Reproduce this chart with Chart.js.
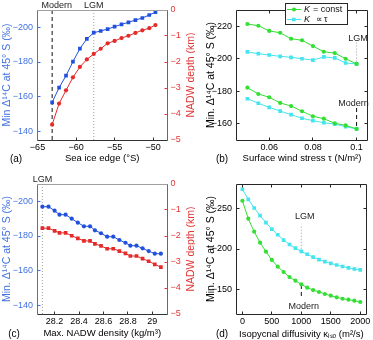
<!DOCTYPE html>
<html>
<head>
<meta charset="utf-8">
<script src="https://cdn.jsdelivr.net/npm/chart.js@4.4.1/dist/chart.umd.min.js"></script>
<style>
  body { margin: 0; background: #fff; }
  #fig { position: relative; width: 373px; height: 340px; overflow: hidden; }
  #fig canvas { position: absolute; }
</style>
</head>
<body>
<div id="fig">
  <canvas id="pa" width="195" height="170" style="left:0;top:0"></canvas>
  <canvas id="pb" width="178" height="170" style="left:195px;top:0"></canvas>
  <canvas id="pc" width="195" height="170" style="left:0;top:170px"></canvas>
  <canvas id="pd" width="178" height="170" style="left:195px;top:170px"></canvas>
</div>
<script>
// (a) sea ice edge experiment
const seaIceEdge = [-63.1, -62.2, -61.3, -60.4, -59.5, -58.6, -57.7, -56.8, -55.9, -55.0, -54.1, -53.2, -52.3, -51.4, -50.5, -49.7];
const aC14 = [-156.7, -165.2, -172.1, -180.2, -187.7, -193.3, -196.9, -197.9, -199.0, -200.4, -201.7, -202.9, -204.2, -205.4, -207.1, -208.7];
const aNadwDepth = [-4.41, -3.60, -3.09, -2.59, -2.19, -1.90, -1.69, -1.49, -1.28, -1.19, -1.08, -0.99, -0.88, -0.78, -0.70, -0.58];
const modernIceEdge = -63.1, lgmIceEdge = -57.7;

// (b) wind stress experiment
const windStress = [0.05, 0.055, 0.06, 0.065, 0.07, 0.075, 0.08, 0.085, 0.09, 0.095, 0.1];
const bConstLgm = [-221.4, -220.3, -217.1, -216.0, -212.3, -211.4, -207.8, -204.3, -203.5, -200.0, -196.8];
const bPropLgm = [-204.2, -203.1, -202.3, -201.5, -200.9, -200.0, -199.2, -201.1, -200.5, -197.4, -196.8];
const bConstModern = [-182.2, -178.3, -176.3, -172.8, -170.9, -167.7, -164.6, -163.1, -160.3, -159.0, -156.8];
const bPropModern = [-175.4, -172.6, -170.1, -167.8, -165.6, -163.4, -161.9, -160.6, -159.8, -158.2, -156.8];

// (c) NADW density experiment
const nadwDensity = [28.10, 28.15, 28.20, 28.24, 28.29, 28.34, 28.39, 28.44, 28.49, 28.53, 28.58, 28.63, 28.68, 28.73, 28.78, 28.82, 28.87, 28.92, 28.97, 29.02, 29.07];
const cC14 = [-196.9, -196.9, -194.6, -192.3, -192.3, -190.0, -187.7, -185.6, -185.6, -183.3, -181.6, -179.6, -179.6, -177.7, -176.1, -174.4, -174.4, -172.9, -171.3, -169.8, -169.8];
const cNadwDepth = [-1.70, -1.70, -1.80, -1.88, -1.88, -1.99, -2.09, -2.19, -2.19, -2.30, -2.38, -2.49, -2.49, -2.58, -2.67, -2.77, -2.77, -2.87, -2.97, -3.09, -3.20];

// (d) isopycnal diffusivity experiment
const diffusivity = [0, 100, 200, 300, 400, 500, 600, 700, 800, 900, 1000, 1100, 1200, 1300, 1400, 1500, 1600, 1700, 1800, 1900, 2000];
const dConst = [-259.4, -237.3, -221.3, -207.8, -196.7, -186.5, -178.2, -171.7, -165.5, -161.0, -156.5, -152.4, -149.5, -147.1, -144.6, -142.5, -140.5, -138.8, -137.6, -136.4, -134.8];
const dProp = [-273.5, -261.0, -250.5, -241.0, -232.5, -224.5, -217.5, -211.0, -205.5, -201.0, -197.0, -193.5, -190.0, -187.0, -184.5, -182.3, -180.3, -178.5, -176.8, -175.4, -174.2];

// tick values
const aXTicks = [-65, -60, -55, -50];
const c14Ticks = [-200, -180, -160, -140];
const depthTicks = [0, -1, -2, -3, -4, -5];
const bXTicks = [0.06, 0.08, 0.1];
const bYTicks = [-220, -200, -180, -160];
const cXTicks = [28.2, 28.4, 28.6, 28.8, 29];
const dXTicks = [0, 500, 1000, 1500, 2000];
const dYTicks = [-250, -200, -150];

const FONT = '"Liberation Sans", Arial, Helvetica, sans-serif';
const BLUE = '#2150dd', BLUE_AX = '#4272e0', RED = '#e42a2a', RED_AX = '#e23535';
const GREEN = '#33df33', CYAN = '#45e4ee', INK = '#262626', GREY = '#a0a0a0';

Chart.defaults.font.family = FONT;
Chart.defaults.font.size = 9;
Chart.defaults.color = '#000';
Chart.defaults.animation = false;

function pts(xs, ys) { return xs.map((x, i) => ({ x: x, y: ys[i] })); }
function fmt(v) { return v < 0 ? '\u2212' + (-v) : String(v); }

function axis(pos, min, max, tickVals, color, extra) {
  return Object.assign({
    type: 'linear', position: pos, min: min, max: max,
    afterBuildTicks: s => { s.ticks = tickVals.map(v => ({ value: v })); },
    grid: { display: false, drawTicks: false },
    border: { display: false },
    ticks: { color: color, padding: 4.5, callback: fmt, autoSkip: false, maxRotation: 0 }
  }, extra);
}

function series(xs, ys, color, style, yAxisID) {
  return {
    data: pts(xs, ys), borderColor: color, backgroundColor: color, borderWidth: 1,
    pointStyle: style, pointRadius: style === 'rect' ? 2.6 : 2.1, pointBorderWidth: 0,
    yAxisID: yAxisID || 'y', order: 1
  };
}

function vline(x, y0, y1, color, dash, yAxisID) {
  return {
    data: [{ x: x, y: y0 }, { x: x, y: y1 }], borderColor: color, borderWidth: 1,
    borderDash: dash, pointRadius: 0, yAxisID: yAxisID || 'y', order: 2
  };
}

const DASH = [4, 3], DOT = [1, 2];

const decoPlugin = {
  id: 'deco',
  afterDraw(chart, args, o) {
    const ctx = chart.ctx, a = chart.chartArea, sc = chart.scales;
    const c = v => Math.floor(v) + 0.5;
    const L = c(a.left), R = c(a.right), T = c(a.top), B = c(a.bottom);
    ctx.save();
    ctx.lineWidth = 1;
    const seg = (col, x0, y0, x1, y1) => {
      ctx.strokeStyle = col; ctx.beginPath(); ctx.moveTo(x0, y0); ctx.lineTo(x1, y1); ctx.stroke();
    };
    // inward tick marks
    (o.ticks || []).forEach(tk => {
      const s = sc[tk.axis];
      ctx.strokeStyle = tk.color;
      ctx.beginPath();
      s.ticks.forEach(t => {
        const p = c(s.getPixelForValue(t.value));
        if (tk.side === 'bottom') { ctx.moveTo(p, B); ctx.lineTo(p, B - 3); }
        if (tk.side === 'top') { ctx.moveTo(p, T); ctx.lineTo(p, T + 3); }
        if (tk.side === 'left') { ctx.moveTo(L, p); ctx.lineTo(L + 3, p); }
        if (tk.side === 'right') { ctx.moveTo(R, p); ctx.lineTo(R - 3, p); }
      });
      ctx.stroke();
    });
    // box
    const f = o.frame;
    seg(f.top, L, T, R, T);
    seg(f.bottom, L, B, R, B);
    seg(f.left, L, T, L, B);
    seg(f.right, R, T, R, B);
    // text labels
    ctx.textBaseline = 'middle';
    (o.texts || []).forEach(t => {
      ctx.font = (t.size || 9) + 'px ' + FONT;
      ctx.fillStyle = t.color || '#222';
      ctx.textAlign = t.align || 'center';
      const x = t.xv !== undefined ? sc.x.getPixelForValue(t.xv) + (t.dx || 0) : t.x;
      const y = t.yv !== undefined ? sc.y.getPixelForValue(t.yv) : t.y;
      ctx.fillText(t.text, x, y);
    });
    // right axis title, reading bottom to top
    if (o.rightTitle) {
      const r = o.rightTitle;
      ctx.save();
      ctx.translate(r.x, (a.top + a.bottom) / 2 + (r.dy || 0));
      ctx.rotate(-Math.PI / 2);
      ctx.font = '10.5px ' + FONT;
      ctx.fillStyle = r.color;
      ctx.textAlign = 'center';
      ctx.fillText(r.text, 0, 0);
      ctx.restore();
    }
    // legend box
    if (o.legend) {
      const g = o.legend;
      ctx.fillStyle = '#fff';
      ctx.fillRect(g.x, g.y, g.w, g.h);
      ctx.strokeStyle = INK;
      ctx.strokeRect(g.x + 0.5, g.y + 0.5, g.w, g.h);
      g.rows.forEach(r => {
        ctx.strokeStyle = r.color; ctx.fillStyle = r.color;
        ctx.beginPath(); ctx.moveTo(g.x + 2, r.y); ctx.lineTo(g.x + 16, r.y); ctx.stroke();
        ctx.beginPath();
        if (r.style === 'rect') ctx.rect(g.x + 7, r.y - 1.8, 3.6, 3.6);
        else ctx.arc(g.x + 9, r.y, 2.1, 0, Math.PI * 2);
        ctx.fill();
        ctx.fillStyle = '#111';
        ctx.textAlign = 'left';
        ctx.font = 'italic 9px ' + FONT;
        ctx.fillText('K', g.x + 19, r.y);
        ctx.font = '9px ' + FONT;
        ctx.fillText(r.text, g.x + r.tx, r.y);
      });
    }
    ctx.restore();
  }
};
Chart.register(decoPlugin);

function baseOptions(scales, deco, pad) {
  return {
    responsive: false, maintainAspectRatio: false, animation: false,
    layout: { padding: pad },
    plugins: { legend: { display: false }, tooltip: { enabled: false }, deco: deco },
    scales: scales
  };
}

const c14Title = 'Min. \u0394\u00b9\u2074C at 45\u00b0 S (\u2030)';

// ---------- (a)
new Chart(document.getElementById('pa'), {
  type: 'line',
  data: { datasets: [
    vline(modernIceEdge, -210, -135, '#111', DASH),
    vline(lgmIceEdge, -210, -135, GREY, DOT),
    series(seaIceEdge, aC14, BLUE, 'rect', 'y'),
    series(seaIceEdge, aNadwDepth, RED, 'circle', 'y2')
  ] },
  options: baseOptions({
    x: axis('bottom', -65, -48.2, aXTicks, '#000', {
      afterFit: s => { s.height = 30; },
      ticks: { color: '#000', padding: 2, callback: fmt, autoSkip: false, maxRotation: 0 },
      title: { display: true, text: 'Sea ice edge (\u00b0S)', font: { size: 9.5 }, padding: { top: 0, bottom: 6 } }
    }),
    y: axis('left', -210, -135, c14Ticks, BLUE_AX, {
      reverse: true,
      afterFit: s => { s.width = 37.5; },
      title: { display: true, text: 'Min \u0394\u00b9\u2074C at 45\u00b0 S (\u2030)', color: BLUE_AX, font: { size: 10.5 }, padding: { top: 1, bottom: 0 } }
    }),
    y2: axis('right', -5, 0, depthTicks, RED_AX, {
      afterFit: s => { s.width = 28; },
      ticks: { color: RED_AX, padding: 3.5, callback: fmt, autoSkip: false }
    })
  }, {
    frame: { left: BLUE_AX, right: RED_AX, top: GREY, bottom: '#333' },
    ticks: [{ axis: 'x', side: 'bottom', color: '#333' }, { axis: 'y', side: 'left', color: BLUE_AX }, { axis: 'y2', side: 'right', color: RED_AX }],
    texts: [
      { text: 'Modern', xv: modernIceEdge, dx: 4.5, y: 5.5 },
      { text: 'LGM', xv: lgmIceEdge, y: 5.5 },
      { text: '(a)', x: 16, y: 159, size: 10, color: '#000' }
    ],
    rightTitle: { text: 'NADW depth (km)', color: RED_AX, x: 191.5 }
  }, { top: 10, left: 0, right: 0, bottom: 0 })
});

// ---------- (b)
new Chart(document.getElementById('pb'), {
  type: 'line',
  data: { datasets: [
    vline(0.1, -210, -197, GREY, DOT),
    vline(0.1, -169.7, -157.4, '#111', DASH),
    series(windStress, bConstLgm, GREEN, 'circle'),
    series(windStress, bPropLgm, CYAN, 'rect'),
    series(windStress, bConstModern, GREEN, 'circle'),
    series(windStress, bPropModern, CYAN, 'rect')
  ] },
  options: baseOptions({
    x: axis('bottom', 0.045, 0.105, bXTicks, '#000', {
      afterFit: s => { s.height = 30; },
      ticks: { color: '#000', padding: 2, callback: fmt, autoSkip: false, maxRotation: 0 },
      title: { display: true, text: 'Surface wind stress \u03c4 (N/m\u00b2)', font: { size: 9.5 }, padding: { top: 0, bottom: 6 } }
    }),
    y: axis('left', -230, -150, bYTicks, '#000', {
      reverse: true,
      afterFit: s => { s.width = 41.5; },
      title: { display: true, text: c14Title, color: '#000', font: { size: 10.5 }, padding: { top: 10, bottom: 0 } }
    })
  }, {
    frame: { left: INK, right: INK, top: INK, bottom: INK },
    ticks: [{ axis: 'x', side: 'bottom', color: INK }, { axis: 'x', side: 'top', color: INK }, { axis: 'y', side: 'left', color: INK }, { axis: 'y', side: 'right', color: INK }],
    texts: [
      { text: 'LGM', xv: 0.1, dx: 1.5, yv: -212.6 },
      { text: 'Modern', xv: 0.1, dx: -3, yv: -172.6 },
      { text: '(b)', x: 27, y: 159, size: 10, color: '#000' }
    ],
    legend: { x: 90, y: 3, w: 62, h: 21, rows: [
      { color: GREEN, style: 'circle', y: 9.5, text: '= const', tx: 28 },
      { color: CYAN, style: 'rect', y: 19.5, text: '\u221d \u03c4', tx: 30.5 }
    ] }
  }, { top: 10, left: 0, right: 5.5, bottom: 0 })
});

// ---------- (c)
new Chart(document.getElementById('pc'), {
  type: 'line',
  data: { datasets: [
    vline(28.1, -210, -135, GREY, DOT),
    series(nadwDensity, cC14, BLUE, 'circle', 'y'),
    series(nadwDensity, cNadwDepth, RED, 'rect', 'y2')
  ] },
  options: baseOptions({
    x: axis('bottom', 28.06, 29.12, cXTicks, '#000', {
      afterFit: s => { s.height = 26; },
      ticks: { color: '#000', padding: 2.5, callback: fmt, autoSkip: false, maxRotation: 0 },
      title: { display: true, text: 'Max. NADW density (kg/m\u00b3)', font: { size: 9.5 }, padding: { top: 0, bottom: 0.5 } }
    }),
    y: axis('left', -210, -135, c14Ticks, BLUE_AX, {
      reverse: true,
      afterFit: s => { s.width = 37.5; },
      title: { display: true, text: c14Title, color: BLUE_AX, font: { size: 10.5 }, padding: { top: 1, bottom: 0 } }
    }),
    y2: axis('right', -5, 0, depthTicks, RED_AX, {
      afterFit: s => { s.width = 28; },
      ticks: { color: RED_AX, padding: 3.5, callback: fmt, autoSkip: false }
    })
  }, {
    frame: { left: BLUE_AX, right: RED_AX, top: GREY, bottom: '#333' },
    ticks: [{ axis: 'x', side: 'bottom', color: '#333' }, { axis: 'y', side: 'left', color: BLUE_AX }, { axis: 'y2', side: 'right', color: RED_AX }],
    texts: [
      { text: 'LGM', xv: 28.1, dx: 0, y: 9.5 },
      { text: '(c)', x: 14, y: 164, size: 10, color: '#000' }
    ],
    rightTitle: { text: 'NADW depth (km)', color: RED_AX, x: 191.5 }
  }, { top: 14, left: 0, right: 0, bottom: 0 })
});

// ---------- (d)
new Chart(document.getElementById('pd'), {
  type: 'line',
  data: { datasets: [
    vline(1000, -227.4, -198.8, GREY, DOT),
    vline(1000, -155.7, -139.4, '#111', DASH),
    series(diffusivity, dProp, CYAN, 'rect'),
    series(diffusivity, dConst, GREEN, 'circle')
  ] },
  options: baseOptions({
    x: axis('bottom', -100, 2100, dXTicks, '#000', {
      afterFit: s => { s.height = 26; },
      ticks: { color: '#000', padding: 2.5, callback: fmt, autoSkip: false, maxRotation: 0 },
      title: { display: true, text: 'Isopycnal diffusivity \u03ba\u1d62\u209b\u2092 (m\u00b2/s)', font: { size: 9.5 }, padding: { top: 0, bottom: 0 } }
    }),
    y: axis('left', -280, -120, dYTicks, '#000', {
      reverse: true,
      afterFit: s => { s.width = 41.5; },
      title: { display: true, text: c14Title, color: '#000', font: { size: 10.5 }, padding: { top: 10, bottom: 0 } }
    })
  }, {
    frame: { left: INK, right: INK, top: INK, bottom: INK },
    ticks: [{ axis: 'x', side: 'bottom', color: INK }, { axis: 'x', side: 'top', color: INK }, { axis: 'y', side: 'left', color: INK }, { axis: 'y', side: 'right', color: INK }],
    texts: [
      { text: 'LGM', xv: 1000, dx: 3.5, yv: -239.8 },
      { text: 'Modern', xv: 1000, dx: 2.5, yv: -129.0 },
      { text: '(d)', x: 27, y: 164.5, size: 10, color: '#000' }
    ]
  }, { top: 14, left: 0, right: 5.5, bottom: 0 })
});
</script>
</body>
</html>
